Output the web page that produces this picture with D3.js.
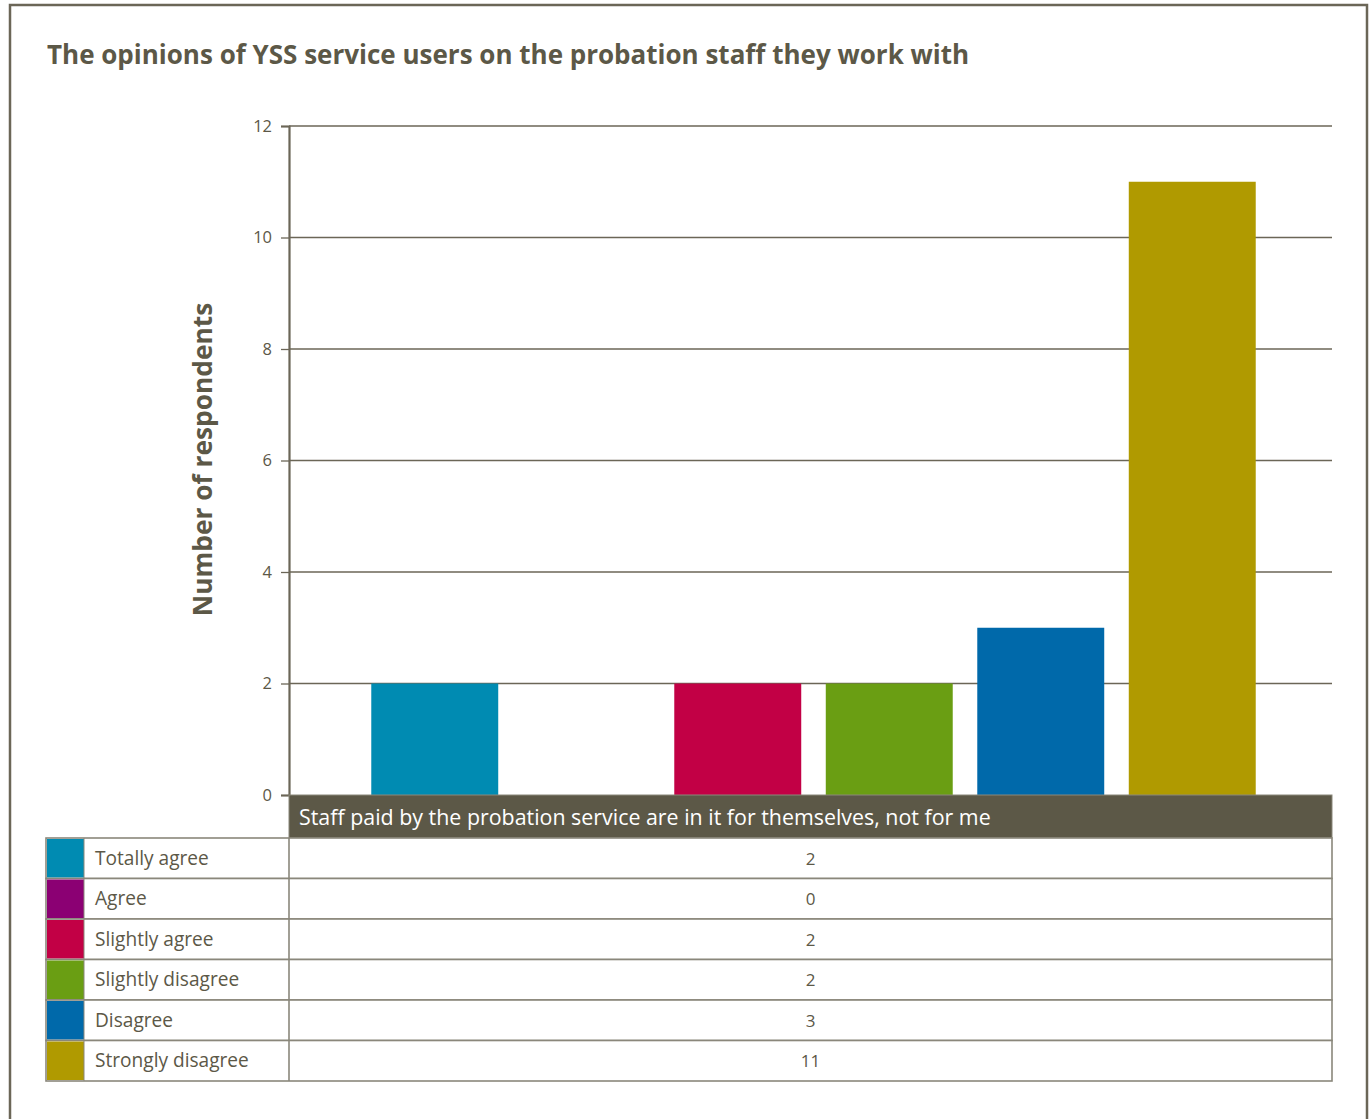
<!DOCTYPE html>
<html><head><meta charset="utf-8">
<script src="https://cdn.jsdelivr.net/npm/d3@7"></script>
<style>
html,body{margin:0;padding:0;background:#fff;}
svg{display:block;}
</style></head>
<body>
<svg id="chart" width="1372" height="1119"></svg>
<script>
const title = "The opinions of YSS service users on the probation staff they work with";
const yAxisTitle = "Number of respondents";
const question = "Staff paid by the probation service are in it for themselves, not for me";
const categories = ["Totally agree","Agree","Slightly agree","Slightly disagree","Disagree","Strongly disagree"];
const values = [2,0,2,2,3,11];
const colors = ["#008bb2","#8b0073","#c20045","#6a9e13","#0069aa","#b09a00"];
const yTicks = [0,2,4,6,8,10,12];

const ink = "#5c5847";
const line = "#6b6657";
const svg = d3.select("#chart");
const font = "'Open Sans', 'Noto Sans', sans-serif";

// outer frame
svg.append("rect").attr("x",10).attr("y",5).attr("width",1357).attr("height",1130)
  .attr("fill","none").attr("stroke",line).attr("stroke-width",2.5);

svg.append("text").attr("x",47).attr("y",64).text(title)
  .attr("font-family",font).attr("font-weight",700).attr("font-size",26).attr("fill",ink);

const plotL = 289, plotR = 1332, plotT = 126, plotB = 795;
const y = d3.scaleLinear().domain([0,12]).range([plotB,plotT]);
const x = d3.scaleBand().domain(categories).range([plotL+70, plotR-64]).paddingInner(0.162).paddingOuter(0.081);

// gridlines
svg.append("g").selectAll("line").data(yTicks.filter(d=>d>0)).join("line")
  .attr("x1",plotL).attr("x2",plotR).attr("y1",d=>y(d)).attr("y2",d=>y(d))
  .attr("stroke",line).attr("stroke-width",1.3);

// y axis
const yAxis = d3.axisLeft(y).tickValues(yTicks).tickSize(8).tickPadding(9).tickFormat(d3.format("d"));
const ga = svg.append("g").attr("transform",`translate(${plotL},0)`).call(yAxis);
ga.select(".domain").attr("stroke",line).attr("stroke-width",2.2);
ga.selectAll(".tick line").attr("stroke",line).attr("stroke-width",1.3);
ga.selectAll(".tick text").attr("font-family",font).attr("font-size",16.5).attr("fill",ink);

svg.append("text").attr("transform",`translate(212,${(plotT+plotB)/2 - 1}) rotate(-90)`)
  .attr("text-anchor","middle").text(yAxisTitle)
  .attr("font-family",font).attr("font-weight",700).attr("font-size",26.3).attr("fill",ink);

// bars
svg.append("g").selectAll("rect").data(categories).join("rect")
  .attr("x",d=>x(d)).attr("width",x.bandwidth())
  .attr("y",(d,i)=>y(values[i])).attr("height",(d,i)=>y(0)-y(values[i]))
  .attr("fill",(d,i)=>colors[i]);

// data table
const hdrH = 43, rowH = 40.5;
const tblL = 46, swW = 37;
svg.append("rect").attr("x",plotL).attr("y",plotB).attr("width",plotR-plotL).attr("height",hdrH)
  .attr("fill","#5c5847").attr("stroke","#8a877b").attr("stroke-width",1);
svg.append("text").attr("x",299).attr("y",plotB+30).text(question)
  .attr("font-family",font).attr("font-size",21.4).attr("fill","#fff");

const rowsTop = plotB + hdrH;
const rows = svg.append("g").selectAll("g").data(categories).join("g")
  .attr("transform",(d,i)=>`translate(0,${rowsTop + i*rowH})`);
rows.append("rect").attr("x",tblL).attr("y",0).attr("width",plotR-tblL).attr("height",rowH)
  .attr("fill","#fff").attr("stroke","#8a877b").attr("stroke-width",1.6);
rows.append("rect").attr("x",tblL+1).attr("y",1).attr("width",swW).attr("height",rowH-2)
  .attr("fill",(d,i)=>colors[i]);
rows.append("line").attr("x1",plotL).attr("x2",plotL).attr("y1",0).attr("y2",rowH)
  .attr("stroke","#8a877b").attr("stroke-width",1.6);
rows.append("line").attr("x1",tblL+swW+1).attr("x2",tblL+swW+1).attr("y1",0).attr("y2",rowH)
  .attr("stroke","#8a877b").attr("stroke-width",1);
rows.append("text").attr("x",95).attr("y",rowH/2+6.5).text(d=>d)
  .attr("font-family",font).attr("font-size",19.1).attr("fill",ink);
rows.append("text").attr("x",(plotL+plotR)/2).attr("y",rowH/2+6.5).attr("text-anchor","middle")
  .text((d,i)=>values[i])
  .attr("font-family",font).attr("font-size",17).attr("fill",ink);
</script>
</body></html>
